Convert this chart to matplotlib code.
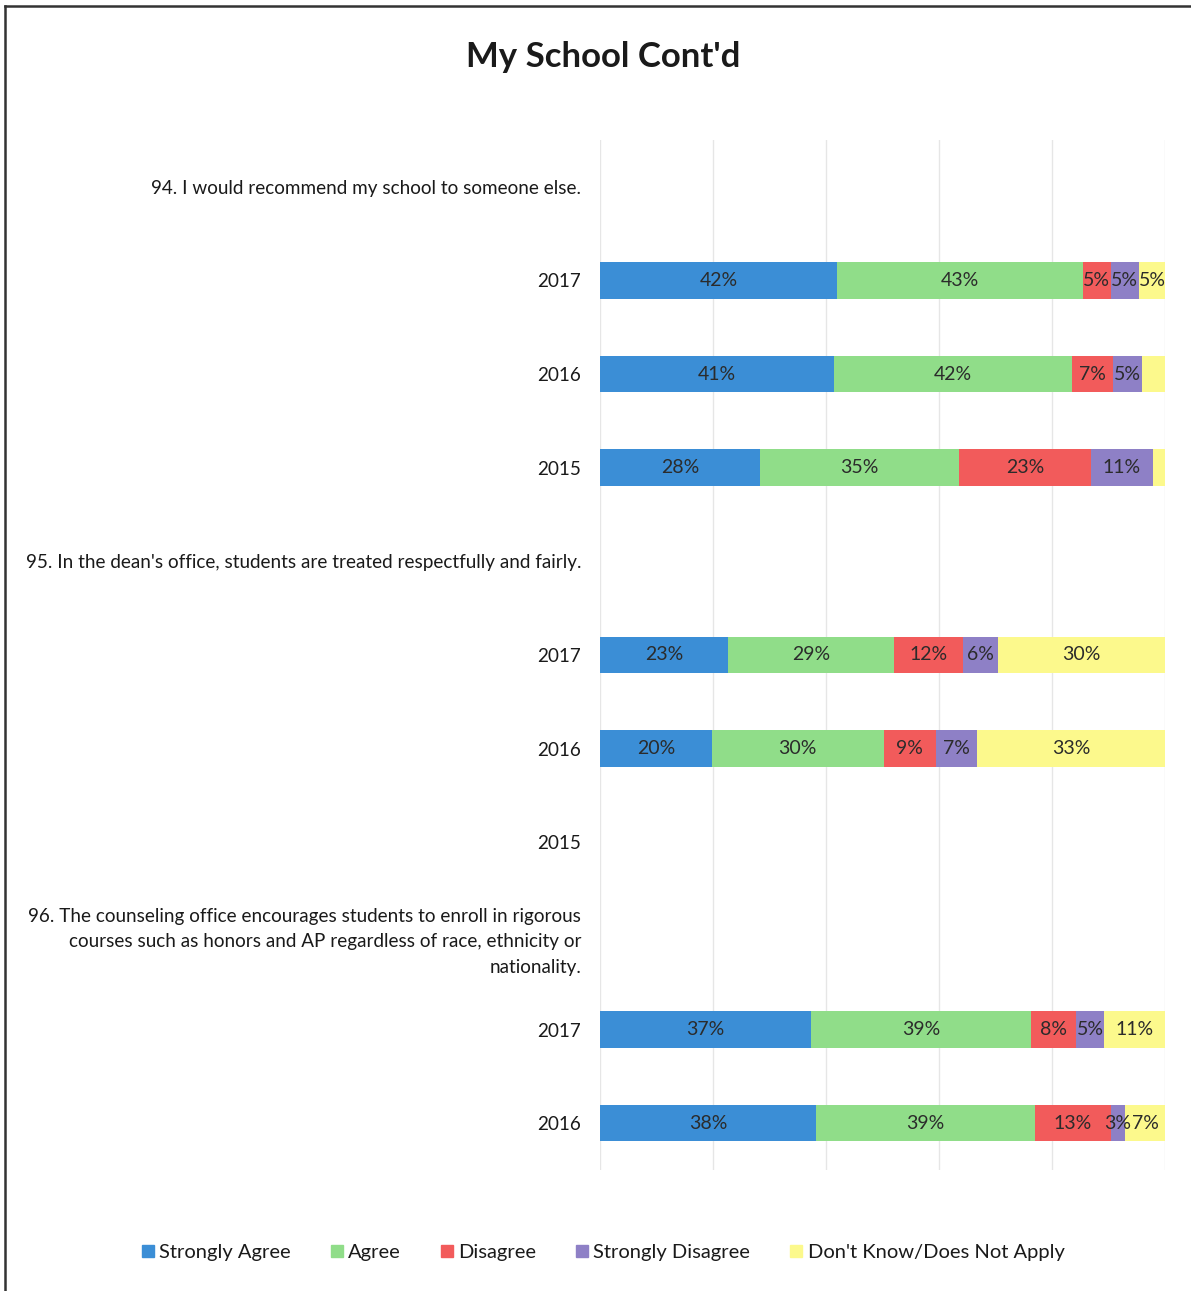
import numpy as np
import matplotlib
matplotlib.use("Agg")
import matplotlib.pyplot as plt
from matplotlib.lines import Line2D

plt.rcParams['font.family'] = ['Lato', 'DejaVu Sans']

title = "My School Cont'd"
categories = [
    "94. I would recommend my school to someone else.",
    "2017", "2016", "2015",
    "95. In the dean's office, students are treated respectfully and fairly.",
    "2017", "2016", "2015",
    "96. The counseling office encourages students to enroll in rigorous\ncourses such as honors and AP regardless of race, ethnicity or\nnationality.",
    "2017", "2016",
]
series_names = ["Strongly Agree", "Agree", "Disagree", "Strongly Disagree",
                "Don't Know/Does Not Apply"]
nan = np.nan
strongly_agree = [nan, 42, 41.4, 28.3, nan, 22.7, 19.8, nan, nan, 37.4, 38.2]
agree = [nan, 43.4, 42.2, 35.2, nan, 29.4, 30.4, nan, nan, 38.9, 38.8]
disagree = [nan, 5, 7.2, 23.4, nan, 12.2, 9.3, nan, nan, 8, 13.4]
strongly_disagree = [nan, 5, 5.1, 10.9, nan, 6.2, 7.2, nan, nan, 4.9, 2.6]
dont_know = [nan, 4.6, 4.1, 2.2, nan, 29.5, 33.3, nan, nan, 10.8, 7]
# data labels that are not shown in the original (series index, row index)
hidden_labels = {(4, 2), (4, 3)}
x_ticks = [0, 20, 40, 60, 80, 100]

colors = ["#3b8ed6", "#90dd89", "#f25b5b", "#8e80c6", "#fcf98c"]

fig = plt.figure(figsize=(11.91, 12.91), dpi=100)
ax = fig.add_axes([600/1191, 1-1170/1291, 565/1191, 1030/1291])

series = [strongly_agree, agree, disagree, strongly_disagree, dont_know]
y = np.arange(len(categories))
left = np.zeros(len(categories))
for si, (name, vals, col) in enumerate(zip(series_names, series, colors)):
    v = np.array(vals, dtype=float)
    vv = np.nan_to_num(v)
    bars = ax.barh(y, vv, left=left, height=0.39, color=col, label=name,
                   zorder=3)
    labels = []
    for ri, val in enumerate(v):
        if np.isnan(val) or (si, ri) in hidden_labels:
            labels.append("")
        else:
            labels.append(f"{int(round(val))}%")
    ax.bar_label(bars, labels=labels, label_type='center', fontsize=14,
                 color="#2b2b2b", zorder=4)
    left = left + vv

ax.set_ylim(len(categories) - 0.5, -0.5)
ax.set_xlim(0, 100)
ax.set_xticks(x_ticks)
ax.set_xticklabels([])
ax.tick_params(axis='x', length=0)
ax.tick_params(axis='y', length=0, pad=13.5, labelsize=13.6, labelcolor="#1a1a1a")
ax.set_yticks(y)
ax.set_yticklabels(categories, ha='right', linespacing=1.6)
ax.grid(axis='x', color="#e6e6e6", linewidth=1, zorder=0)
for s in ax.spines.values():
    s.set_visible(False)

fig.text(603/1191, 1-57/1291, title, ha='center', va='center',
         fontsize=25, fontweight='bold', color="#1a1a1a")

handles = [Line2D([0], [0], marker='s', linestyle='none', markersize=9,
                  markerfacecolor=c, markeredgecolor=c) for c in colors]
fig.legend(handles, series_names, loc='center', ncol=5,
           bbox_to_anchor=(603/1191, 1-1252/1291), frameon=False,
           fontsize=14.5, handlelength=0.6, handletextpad=0.25,
           columnspacing=2.0, labelcolor="#1a1a1a")

# chart border (top and left visible in the reference)
fig.add_artist(Line2D([5/1191, 5/1191], [0, 1-6/1291], transform=fig.transFigure,
                      color="#333333", linewidth=1.8))
fig.add_artist(Line2D([5/1191, 1], [1-6/1291, 1-6/1291], transform=fig.transFigure,
                      color="#333333", linewidth=1.8))

fig.savefig("out.png", dpi=100)
